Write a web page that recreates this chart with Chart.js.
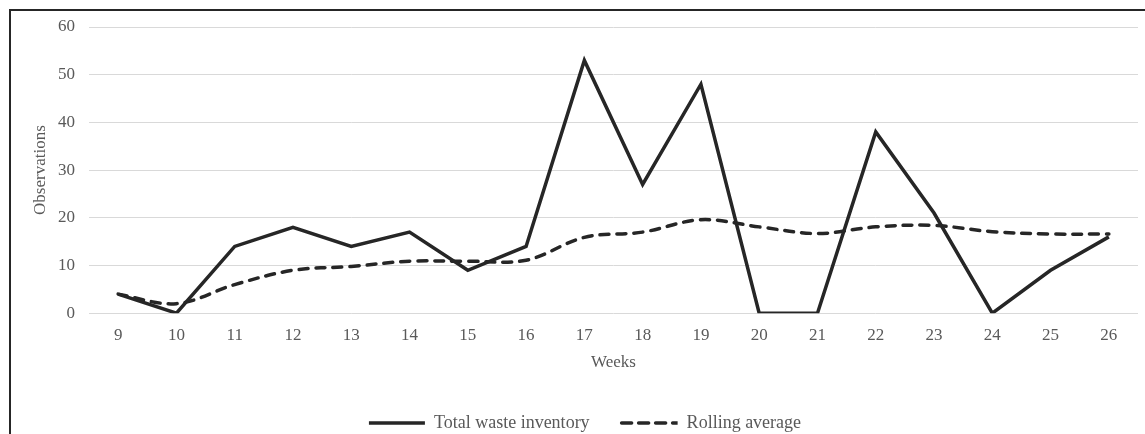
<!DOCTYPE html>
<html>
<head>
<meta charset="utf-8">
<script src="https://cdn.jsdelivr.net/npm/chart.js@4/dist/chart.umd.min.js"></script>
<style>
  html, body { margin: 0; padding: 0; background: #fff; }
  #wrap { position: relative; width: 1145px; height: 434px; }
  #frame { position: absolute; left: 9px; top: 9px; right: -10px; bottom: -10px; border-left: 2px solid #262626; border-top: 2px solid #262626; pointer-events: none; }
</style>
</head>
<body>
<div id="wrap">
  <canvas id="c" width="1145" height="434"></canvas>
  <div id="frame"></div>
</div>
<script>
const weeks = ['9','10','11','12','13','14','15','16','17','18','19','20','21','22','23','24','25','26'];
const totalWaste = [4, 0, 14, 18, 14, 17, 9, 14, 53, 27, 48, 0, 0, 38, 21, 0, 9, 16];
const rollingAvg = [4, 2, 6, 9, 9.8, 10.9, 10.9, 11.1, 15.9, 17, 19.6, 18.1, 16.7, 18.1, 18.4, 17.1, 16.6, 16.6];
const yTicks = [0, 10, 20, 30, 40, 50, 60];

const FONT = 'Liberation Serif, "Times New Roman", serif';
const GREY = '#595959';
const LAYOUT_LEFT = 32;

new Chart(document.getElementById('c'), {
  type: 'line',
  data: {
    labels: weeks,
    datasets: [
      {
        label: 'Total waste inventory',
        data: totalWaste,
        borderColor: '#262626',
        backgroundColor: '#262626',
        borderWidth: 3.5,
        pointRadius: 0,
        tension: 0,
        borderJoinStyle: 'miter'
      },
      {
        label: 'Rolling average',
        data: rollingAvg,
        borderColor: '#262626',
        backgroundColor: '#262626',
        borderWidth: 3.5,
        borderDash: [9, 8],
        borderCapStyle: 'round',
        pointRadius: 0,
        tension: 0.35
      }
    ]
  },
  options: {
    responsive: false,
    animation: false,
    layout: { padding: { left: LAYOUT_LEFT, right: 7, top: 27, bottom: -8 } },
    plugins: {
      tooltip: { enabled: false },
      legend: {
        position: 'bottom',
        labels: {
          boxWidth: 56,
          boxHeight: 0,
          padding: 32,
          color: GREY,
          font: { family: FONT, size: 18 }
        }
      }
    },
    scales: {
      x: {
        offset: true,
        grid: { display: false, drawTicks: false },
        border: { display: false },
        ticks: { color: GREY, font: { family: FONT, size: 17 }, padding: 12, maxRotation: 0 },
        title: { display: true, text: 'Weeks', color: GREY, font: { family: FONT, size: 17 }, padding: { top: -5, bottom: 9 } }
      },
      y: {
        min: 0,
        max: 60,
        afterBuildTicks: (scale) => { scale.ticks = yTicks.map(v => ({ value: v })); },
        afterFit: (scale) => { scale.width = 89 - LAYOUT_LEFT; },
        grid: { color: '#d9d9d9', drawTicks: false, lineWidth: 1 },
        border: { display: false },
        ticks: { color: GREY, font: { family: FONT, size: 17 }, padding: 14 },
        title: { display: true, text: 'Observations', color: GREY, font: { family: FONT, size: 17 }, padding: { top: -2, bottom: 0 } }
      }
    }
  }
});
</script>
</body>
</html>
